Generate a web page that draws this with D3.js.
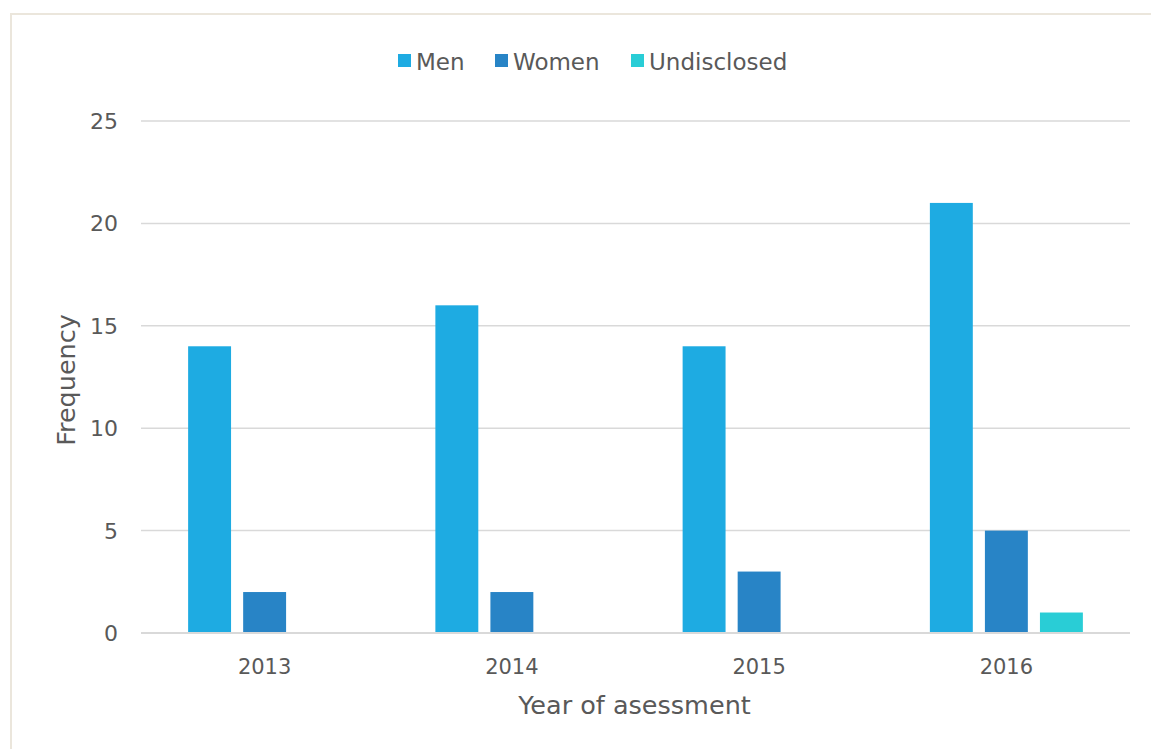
<!DOCTYPE html>
<html>
<head>
<meta charset="utf-8">
<script src="https://cdn.jsdelivr.net/npm/d3@7"></script>
<style>
  html, body { margin: 0; padding: 0; background: #fff; }
  svg { display: block; }
  text { font-family: "Century Gothic", "URW Gothic", "DejaVu Sans", sans-serif; fill: #595959; }
</style>
</head>
<body>
<svg id="chart" width="1151" height="749"></svg>
<script>
// Assessments per year, split by gender
const years = ["2013", "2014", "2015", "2016"];
const seriesNames = ["Men", "Women", "Undisclosed"];
const men = [14, 16, 14, 21];
const women = [2, 2, 3, 5];
const undisclosed = [0, 0, 0, 1];
const yTicks = [0, 5, 10, 15, 20, 25];

const seriesValues = [men, women, undisclosed];
const colors = ["#1eabe2", "#2884c6", "#29cdd6"];

const svg = d3.select("#chart");

// Outer chart frame
svg.append("rect")
  .attr("x", 11).attr("y", 14)
  .attr("width", 1200).attr("height", 800)
  .attr("fill", "none")
  .attr("stroke", "#ebe6dc")
  .attr("stroke-width", 2);

const plot = { left: 141, right: 1130, top: 121, bottom: 633 };

const y = d3.scaleLinear()
  .domain([0, 25])
  .range([plot.bottom, plot.top]);

const x0 = d3.scaleBand()
  .domain(years)
  .range([plot.left, plot.right])
  .padding(0);

const groupWidth = 153;
const x1 = d3.scaleBand()
  .domain(seriesNames)
  .range([(x0.bandwidth() - groupWidth) / 2, (x0.bandwidth() + groupWidth) / 2])
  .paddingInner(0.22)
  .paddingOuter(0);

// Horizontal gridlines
svg.append("g")
  .selectAll("line")
  .data(yTicks)
  .join("line")
  .attr("x1", plot.left).attr("x2", plot.right)
  .attr("y1", d => y(d)).attr("y2", d => y(d))
  .attr("stroke", "#d9d9d9")
  .attr("stroke-width", 1.5);

// Y tick labels
svg.append("g")
  .selectAll("text")
  .data(yTicks)
  .join("text")
  .attr("x", 118)
  .attr("y", d => y(d))
  .attr("dy", "0.36em")
  .attr("text-anchor", "end")
  .attr("font-size", 22)
  .text(d => d);

// Bars
const rows = years.map((yr, i) => ({ year: yr, values: seriesNames.map((s, j) => ({ series: s, idx: j, value: seriesValues[j][i] })) }));

const groups = svg.append("g")
  .selectAll("g")
  .data(rows)
  .join("g")
  .attr("transform", d => `translate(${x0(d.year)},0)`);

groups.selectAll("rect")
  .data(d => d.values.filter(v => v.value > 0))
  .join("rect")
  .attr("x", d => x1(d.series))
  .attr("width", x1.bandwidth())
  .attr("y", d => y(d.value))
  .attr("height", d => y(0) - y(d.value))
  .attr("fill", d => colors[d.idx]);

// Baseline drawn over bars
svg.append("line")
  .attr("x1", plot.left).attr("x2", plot.right)
  .attr("y1", y(0)).attr("y2", y(0))
  .attr("stroke", "#d9d9d9")
  .attr("stroke-width", 2);

// X tick labels
svg.append("g")
  .selectAll("text")
  .data(years)
  .join("text")
  .attr("x", d => x0(d) + x0.bandwidth() / 2)
  .attr("y", 674)
  .attr("text-anchor", "middle")
  .attr("font-size", 21)
  .text(d => d);

// Axis titles
svg.append("text")
  .attr("x", (plot.left + plot.right) / 2 - 1)
  .attr("y", 714)
  .attr("text-anchor", "middle")
  .attr("font-size", 25.5)
  .text("Year of asessment");

svg.append("text")
  .attr("transform", "translate(75,380) rotate(-90)")
  .attr("text-anchor", "middle")
  .attr("font-size", 25.5)
  .text("Frequency");

// Legend
const legendX = [398, 495, 631];
const legend = svg.append("g")
  .selectAll("g")
  .data(seriesNames)
  .join("g")
  .attr("transform", (d, i) => `translate(${legendX[i]},0)`);

legend.append("rect")
  .attr("x", 0).attr("y", 54)
  .attr("width", 13).attr("height", 13)
  .attr("fill", (d, i) => colors[i]);

legend.append("text")
  .attr("x", 18)
  .attr("y", 70)
  .attr("font-size", 23)
  .text(d => d);
</script>
</body>
</html>
